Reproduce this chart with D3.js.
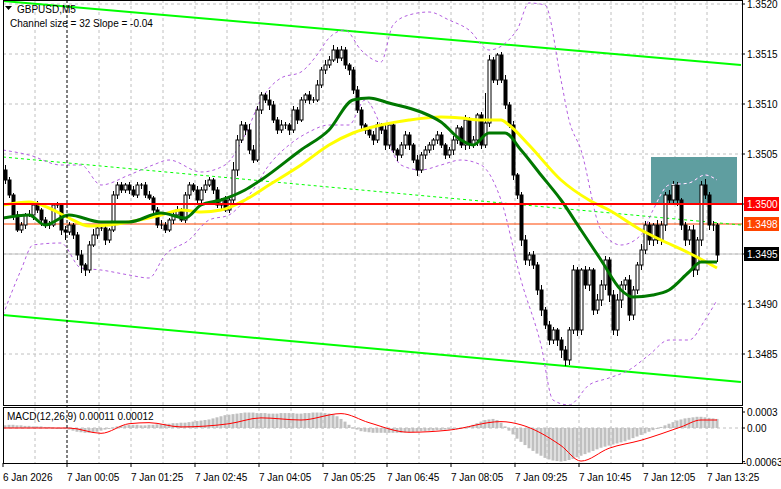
<!DOCTYPE html>
<html><head><meta charset="utf-8">
<script src="https://cdn.jsdelivr.net/npm/d3@7"></script>
<style>body{margin:0;background:#fff}svg{display:block;font-family:"Liberation Sans",Arial,sans-serif}</style>
</head><body><svg id="c" width="781" height="489"></svg>
<script>
const closes=[1.35024,1.35009,1.34989,1.34974,1.34979,1.34989,1.34989,1.34999,1.34994,1.34984,
1.34979,1.34979,1.34999,1.34999,1.34974,1.34972,1.34979,1.34969,1.34949,1.34939,
1.34934,1.34959,1.34969,1.34976,1.34976,1.34964,1.34974,1.35009,1.35019,1.35014,
1.35019,1.35014,1.35009,1.35019,1.35019,1.35009,1.35006,1.34994,1.34979,1.34979,
1.34974,1.34984,1.34989,1.34994,1.34984,1.35009,1.35019,1.35014,1.35004,1.35014,
1.35019,1.35024,1.35014,1.34999,1.35004,1.34994,1.35004,1.35034,1.35064,1.35079,
1.35074,1.35054,1.35044,1.35094,1.35109,1.35104,1.35099,1.35084,1.35074,1.35079,
1.35079,1.35074,1.35094,1.35084,1.35104,1.35109,1.35104,1.35104,1.35119,1.35134,
1.35139,1.35144,1.35154,1.35146,1.35154,1.35139,1.35134,1.35114,1.35094,1.35079,
1.35074,1.35069,1.35064,1.35079,1.35074,1.35059,1.35079,1.35054,1.35049,1.35059,
1.35069,1.35059,1.35044,1.35034,1.35049,1.35054,1.35059,1.35064,1.35069,1.35059,
1.35049,1.35054,1.35064,1.35076,1.35059,1.35084,1.35059,1.35064,1.35089,1.35059,
1.35081,1.35144,1.35124,1.35149,1.35124,1.35099,1.35079,1.35029,1.35009,1.34964,
1.34944,1.34949,1.34939,1.34914,1.34894,1.34879,1.34864,1.34874,1.34864,1.34854,
1.34844,1.34874,1.34934,1.34874,1.34934,1.34919,1.34934,1.34894,1.34904,1.34919,
1.34944,1.34909,1.34874,1.34904,1.34919,1.34924,1.34889,1.34914,1.34939,1.34954,
1.34979,1.34964,1.34979,1.34964,1.34979,1.35009,1.35004,1.35019,1.35004,1.34979,
1.34964,1.34974,1.34934,1.34964,1.35019,1.35009,1.34979,1.34979,1.34949];
const firstOpen=1.35034;
const wickUp=[5,3,2,4,3,2,5,3,4,2,3,4,2,3,2,4,3,2,3,5,2,4,6,3,2,3,2,4,3,3,2,3,4,3,2,3,4,2,3,5,3,2,3,4,2,3,3,2,4,3,5,3,2,3,2,4,3,8,5,4,3,6,5,4,3,2,10,4,3,5,3,2,4,3,3,2,4,3,5,3,5,4,5,3,4,3,2,3,4,3,2,3,4,3,2,5,3,4,2,3,4,3,2,5,3,4,3,2,4,3,2,3,4,3,2,5,3,4,2,3,30,5,3,2,3,5,3,4,2,3,5,3,4,3,5,3,4,3,2,3,4,3,5,3,2,4,3,2,6,5,4,3,5,6,4,3,5,4,3,6,4,3,2,5,4,3,5,4,3,2,3,4,5,3,4,6,3,4,2];
const wickDn=[4,3,5,2,3,4,2,5,3,6,3,4,2,3,5,8,3,4,5,8,6,3,2,4,3,5,3,2,4,3,3,4,2,3,4,3,2,5,3,4,3,2,4,3,2,3,4,2,3,4,3,2,4,3,5,2,3,4,6,3,5,4,3,2,4,3,5,3,4,3,4,5,3,4,2,3,4,3,2,3,4,3,2,5,3,4,5,4,3,5,4,3,5,3,4,5,4,3,6,3,4,5,3,6,3,4,3,5,4,3,4,3,5,4,3,5,4,3,6,4,3,4,3,5,3,4,3,5,4,6,5,6,4,5,6,4,5,4,6,8,6,5,4,6,5,4,6,5,4,6,5,7,5,6,8,5,6,5,4,5,4,5,6,4,5,6,5,4,6,5,6,5,7,5,6,4,5,6,7];
const greenIdx=[-0.5,6,10,16,24,31,39,45,49,54,60,64,74,81,87,91,96,104,109,114,117,121,125,129,134,139,144,149,154,157,162,166,171,174,178];
const greenVal=[1.34986,1.34989,1.34979,1.34989,1.34982,1.34982,1.34991,1.34986,1.34999,1.35004,1.35014,1.35024,1.35054,1.35074,1.35104,1.35106,1.35101,1.35092,1.35082,1.35064,1.35059,1.35071,1.35071,1.35054,1.35029,1.35004,1.34974,1.34944,1.34914,1.34907,1.34909,1.34914,1.34932,1.34942,1.34942];
const yellowIdx=[-0.5,6,11,16,21,26,31,39,44,49,54,60,66,74,81,87,94,101,109,114,119,124,126,131,139,146,151,159,164,171,178];
const yellowVal=[1.34999,1.35002,1.34996,1.34986,1.34978,1.34979,1.34982,1.34989,1.34994,1.34992,1.34994,1.35004,1.35019,1.35039,1.35059,1.35071,1.35079,1.35084,1.35087,1.35086,1.35084,1.35084,1.35079,1.35059,1.35024,1.35004,1.34994,1.34974,1.34964,1.34951,1.34936];
const bbUpIdx=[-0.5,6,14,19,24,31,37,41,49,55,60,64,69,74,78,81,85,89,94,97,101,106,111,116,121,128,131,135,139,141,144,149,154,159,162,166,171,175,178];
const bbUpVal=[1.35054,1.35049,1.35039,1.35039,1.35019,1.35029,1.35039,1.35044,1.35032,1.35039,1.35069,1.35104,1.35126,1.35132,1.35149,1.35166,1.35174,1.35154,1.35142,1.35179,1.35189,1.35192,1.35184,1.35174,1.35154,1.35174,1.35201,1.35199,1.35124,1.35084,1.35054,1.34974,1.34959,1.34969,1.34994,1.35019,1.35021,1.35029,1.35024];
const bbLoIdx=[-0.5,4,7,14,19,24,31,36,40,46,51,56,60,62,66,71,76,81,86,90,95,99,104,109,114,119,124,129,134,137,141,146,151,156,161,166,171,175,178];
const bbLoVal=[1.34889,1.34934,1.34959,1.34961,1.34936,1.34934,1.34929,1.34926,1.34949,1.34964,1.34984,1.34989,1.35004,1.35014,1.35039,1.35059,1.35072,1.35079,1.35079,1.35104,1.35069,1.35039,1.35034,1.35039,1.35044,1.35039,1.35004,1.34924,1.34859,1.34804,1.34799,1.34819,1.34826,1.34834,1.34849,1.34864,1.34864,1.34884,1.34904];
const channelIdx=[-0.5,184];
const chTop=[1.35203,1.35139], chMid=[1.35047,1.34979], chBot=[1.34889,1.34822];
const macdHist=[5,6,6,5,5,4,4,3,3,3,2,2,1,0,-1,-2,-3,-5,-7,-8,-9,-9,-8,-7,-5,-3,-1,1,3,4,5,6,6,6,5,5,6,6,7,7,8,8,9,9,10,10,11,12,13,14,15,16,18,20,22,24,25,26,27,28,29,29,29,28,28,28,27,27,27,28,28,28,28,27,27,28,28,29,29,29,28,27,25,22,17,12,6,1,-3,-6,-7,-8,-9,-9,-9,-9,-9,-9,-9,-9,-8,-8,-8,-7,-6,-6,-5,-5,-4,-4,-3,-3,-2,-1,0,1,3,6,9,12,15,16,17,15,10,3,-5,-12,-20,-26,-32,-38,-43,-48,-52,-56,-59,-61,-62,-63,-62,-60,-58,-55,-52,-49,-46,-43,-40,-37,-35,-33,-31,-29,-27,-25,-22,-19,-16,-13,-10,-7,-4,-1,2,5,8,11,14,16,18,19,20,21,21,20,19,18,17];
const sigIdx=[-0.5,16,24,31,36,44,56,64,74,84,91,101,111,124,129,139,144,151,159,169,174,178];
const sigVal=[0,0,-10,8,10,2,8,19,15,27,10,-8,-4,12,6,-33,-62,-38,-23,2,15,15];
const priceTicks=[1.3520,1.3515,1.3510,1.3505,1.3500,1.3495,1.3490,1.3485];
const timeLabels=["6 Jan 2026","7 Jan 00:05","7 Jan 01:25","7 Jan 02:45","7 Jan 04:05","7 Jan 05:25","7 Jan 06:45","7 Jan 08:05","7 Jan 09:25","7 Jan 10:45","7 Jan 12:05","7 Jan 13:25"];
const timeIdx=[-0.5,15.5,31.5,47.5,63.5,79.5,95.5,111.5,127.5,143.5,159.5,175.5];
const gridIdx=[7.5,15.5,23.5,31.5,39.5,47.5,55.5,63.5,71.5,79.5,87.5,95.5,103.5,111.5,119.5,127.5,135.5,143.5,151.5,159.5,167.5,175.5];
const levelRed=1.3500, levelOrange=1.3498, levelLast=1.3495;
const boxIdx=[161.5,183], boxPrice=[1.35047,1.3500];

const svg=d3.select("#c");
const L=3,R=742,T=0,B=405,MT=407,MB=463;
const x=d3.scaleLinear().domain([0,178]).range([5,717]);
const y=d3.scaleLinear().domain([1.3520,1.3480]).range([4,404]);
const ym=d3.scaleLinear().domain([0,0.0003]).range([428,412]);
const defs=svg.append("defs");
defs.append("clipPath").attr("id","cm").append("rect").attr("x",L).attr("y",T).attr("width",R-L).attr("height",B-T);
defs.append("clipPath").attr("id","cd").append("rect").attr("x",L).attr("y",MT).attr("width",R-L).attr("height",MB-MT);
defs.append("clipPath").attr("id","cb").append("rect").attr("x",x(boxIdx[0])).attr("y",y(boxPrice[0])).attr("width",x(boxIdx[1])-x(boxIdx[0])).attr("height",y(boxPrice[1])-y(boxPrice[0]));
const gm=svg.append("g").attr("clip-path","url(#cm)");
const gd=svg.append("g").attr("clip-path","url(#cd)");
gridIdx.forEach(i=>{ if(i===15.5) return;
 [gm,gd].forEach(g=>g.append("line").attr("x1",x(i)).attr("x2",x(i)).attr("y1",0).attr("y2",489).attr("stroke","#c0c0c0").attr("stroke-dasharray","3,3"));});
priceTicks.forEach(p=>gm.append("line").attr("x1",L).attr("x2",R).attr("y1",y(p)).attr("y2",y(p)).attr("stroke","#c0c0c0").attr("stroke-dasharray","3,3"));
gd.append("line").attr("x1",L).attr("x2",R).attr("y1",ym(0)).attr("y2",ym(0)).attr("stroke","#c0c0c0").attr("stroke-dasharray","3,3");
svg.append("line").attr("x1",x(15.5)).attr("x2",x(15.5)).attr("y1",T).attr("y2",MB).attr("stroke","#000").attr("stroke-dasharray","3,2");
gm.append("rect").attr("x",x(boxIdx[0])).attr("y",y(boxPrice[0])).attr("width",x(boxIdx[1])-x(boxIdx[0])).attr("height",y(boxPrice[1])-y(boxPrice[0])).attr("fill","#5f9ea0");
gm.append("line").attr("x1",L).attr("x2",R).attr("y1",y(levelLast)).attr("y2",y(levelLast)).attr("stroke","#c0c0c0");
gm.append("line").attr("x1",L).attr("x2",R).attr("y1",y(levelOrange)).attr("y2",y(levelOrange)).attr("stroke","#ff4500");
const pl=(ix,vals)=>ix.map((i,k)=>[x(i),y(vals[k])]);
gm.append("path").attr("d",d3.line()(pl(channelIdx,chTop))).attr("stroke","#00ff00").attr("stroke-width",2).attr("fill","none");
gm.append("path").attr("d",d3.line()(pl(channelIdx,chBot))).attr("stroke","#00ff00").attr("stroke-width",2).attr("fill","none");
gm.append("path").attr("d",d3.line()(pl(channelIdx,chMid))).attr("stroke","#00ff00").attr("stroke-width",1).attr("stroke-dasharray","3,3").attr("fill","none");
const cl=d3.line().curve(d3.curveMonotoneX);
gm.append("path").attr("d",cl(pl(bbUpIdx,bbUpVal))).attr("stroke","#b35ee0").attr("stroke-dasharray","3,3").attr("fill","none");
gm.append("path").attr("d",cl(pl(bbLoIdx,bbLoVal))).attr("stroke","#b35ee0").attr("stroke-dasharray","3,3").attr("fill","none");
svg.append("g").attr("clip-path","url(#cb)").append("path").attr("d",cl(pl(bbUpIdx,bbUpVal))).attr("stroke","#fff").attr("stroke-dasharray","3,3").attr("fill","none");
const bars=closes.map((c,i)=>{const o=i?closes[i-1]:firstOpen;return{i,o,c,h:Math.max(o,c)+wickUp[i]/1e5,l:Math.min(o,c)-wickDn[i]/1e5};});
const cg=gm.append("g");
bars.forEach(b=>{const cx=Math.round(x(b.i))+0.5;
 cg.append("line").attr("x1",cx).attr("x2",cx).attr("y1",y(b.h)).attr("y2",y(b.l)).attr("stroke","#000");
 const t=y(Math.max(b.o,b.c)),bt=y(Math.min(b.o,b.c));
 if(bt-t<1){cg.append("line").attr("x1",cx-1.5).attr("x2",cx+1.5).attr("y1",t).attr("y2",t).attr("stroke","#000");}
 else cg.append("rect").attr("x",cx-1.5).attr("y",t).attr("width",3).attr("height",bt-t).attr("fill",b.c>=b.o?"#fff":"#000").attr("stroke","#000").attr("stroke-width",1);
});
gm.append("path").attr("d",cl(pl(yellowIdx,yellowVal))).attr("stroke","#ffff00").attr("stroke-width",3).attr("fill","none");
gm.append("path").attr("d",cl(pl(greenIdx,greenVal))).attr("stroke","#007800").attr("stroke-width",3).attr("fill","none");
gm.append("line").attr("x1",L).attr("x2",R).attr("y1",y(levelRed)).attr("y2",y(levelRed)).attr("stroke","#ff0000").attr("stroke-width",2);
macdHist.forEach((v,i)=>{const a=ym(0),b=ym(v/1e5);gd.append("rect").attr("x",x(i)-1.5).attr("width",3).attr("y",Math.min(a,b)).attr("height",Math.max(1,Math.abs(b-a))).attr("fill","#c0c0c0");});
gd.append("path").attr("d",cl(sigIdx.map((i,k)=>[x(i),ym(sigVal[k]/1e5)]))).attr("stroke","#ff0000").attr("fill","none");
svg.append("rect").attr("x",L+0.5).attr("y",T+0.5).attr("width",R-L).attr("height",B-T).attr("fill","none").attr("stroke","#000");
svg.append("rect").attr("x",L+0.5).attr("y",MT+0.5).attr("width",R-L).attr("height",MB-MT).attr("fill","none").attr("stroke","#000");
const fs="10px";
priceTicks.forEach(p=>{svg.append("line").attr("x1",R).attr("x2",R+3).attr("y1",y(p)).attr("y2",y(p)).attr("stroke","#000");
 svg.append("text").attr("x",747).attr("y",y(p)+4).attr("font-size",fs).text(p.toFixed(4));});
[[levelRed,"#ff0000"],[levelOrange,"#ff4500"],[levelLast,"#000"]].forEach(([p,c])=>{
 svg.append("rect").attr("x",R+2).attr("y",y(p)-7).attr("width",35).attr("height",14).attr("fill",c);
 svg.append("text").attr("x",747).attr("y",y(p)+4).attr("font-size",fs).attr("fill","#fff").text(p.toFixed(4));});
[[0.0003,"0.0003"],[0,"0.00"],[-0.00063,"-0.00063"]].forEach(([v,t])=>{
 svg.append("line").attr("x1",R).attr("x2",R+3).attr("y1",ym(v)).attr("y2",ym(v)).attr("stroke","#000");
 svg.append("text").attr("x",t[0]==="-"?743:747).attr("y",Math.min(ym(v)+4,466)).attr("font-size",fs).text(t);});
timeLabels.forEach((t,k)=>{const xx=x(timeIdx[k]);
 svg.append("line").attr("x1",xx).attr("x2",xx).attr("y1",MB).attr("y2",MB+4).attr("stroke","#000");
 svg.append("text").attr("x",Math.max(xx,1)).attr("y",481).attr("font-size",fs).text(t);});
svg.append("path").attr("d","M5,6 L12,6 L8.5,10 Z").attr("fill","#000");
svg.append("text").attr("x",17).attr("y",13).attr("font-size",fs).text("GBPUSD,M5");
svg.append("text").attr("x",10).attr("y",27).attr("font-size",fs).text("Channel size = 32 Slope = -0.04");
svg.append("text").attr("x",7).attr("y",420).attr("font-size",fs).text("MACD(12,26,9) 0.00011 0.00012");
</script></body></html>
